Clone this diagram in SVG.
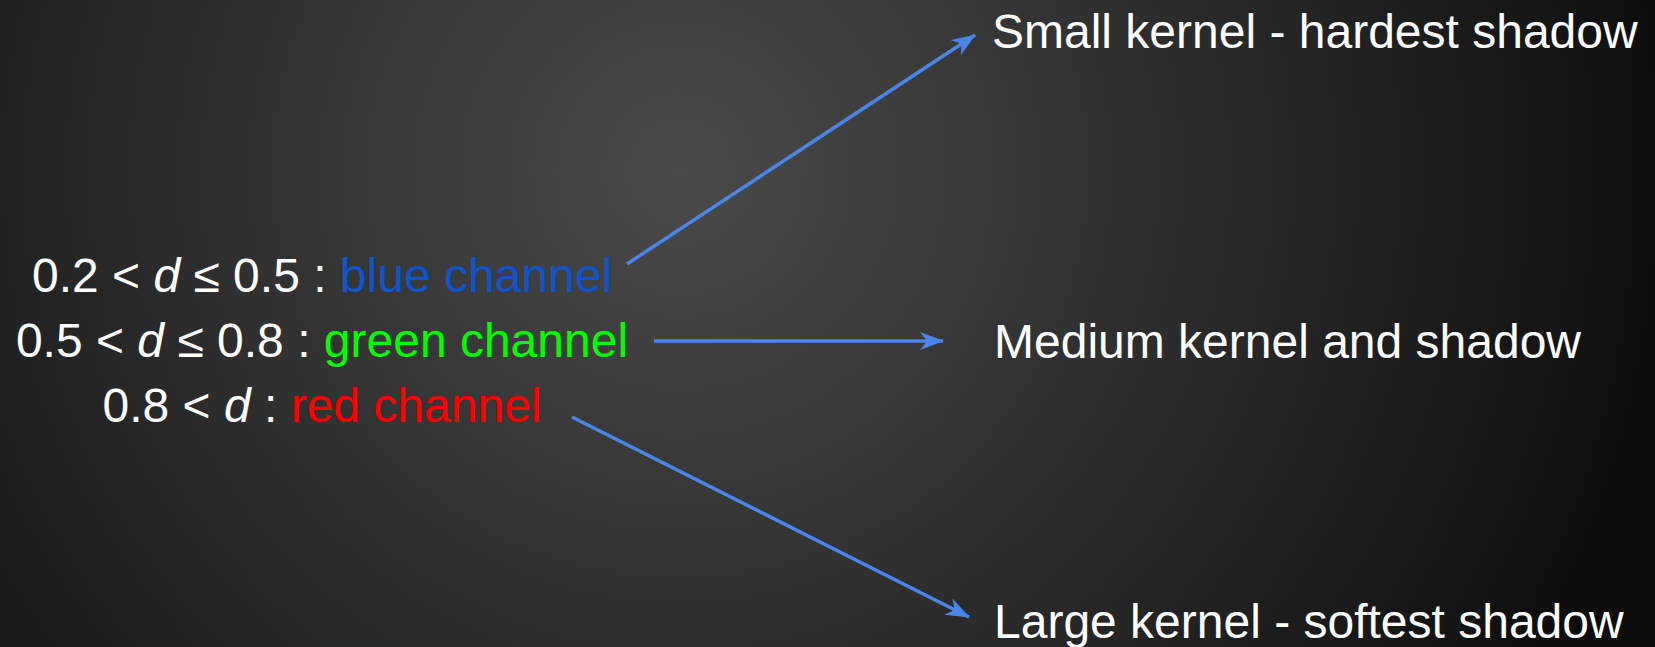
<svg xmlns="http://www.w3.org/2000/svg" width="1655" height="647" viewBox="0 0 1655 647">
  <defs>
    <radialGradient id="bg" gradientUnits="userSpaceOnUse" cx="680" cy="170" r="1000">
      <stop offset="0" stop-color="#4a4a4a"/>
      <stop offset="0.55" stop-color="#2a2a2a"/>
      <stop offset="1" stop-color="#0d0d0d"/>
    </radialGradient>
    <marker id="arrow" viewBox="0 0 24 18" refX="23" refY="9" markerWidth="24" markerHeight="18" markerUnits="userSpaceOnUse" orient="auto">
      <path d="M0,0 L24,9 L0,18 L7,9 Z" fill="#4a86e8"/>
    </marker>
    <style>
      text { font-family: "Liberation Sans", Arial, sans-serif; font-size: 48px; fill: #ffffff; }
      .mid { text-anchor: middle; }
      .it { font-style: italic; }
      .blue { fill: #1155cc; }
      .green { fill: #00ff00; }
      .red { fill: #ff0000; }
      .link { stroke: #4a86e8; stroke-width: 3.5; fill: none; marker-end: url(#arrow); }
    </style>
  </defs>

  <rect width="1655" height="647" fill="url(#bg)"/>

  <!-- depth ranges mapped to texture channels -->
  <g id="channels">
    <text class="mid" x="322" y="292">0.2 &lt; <tspan class="it">d</tspan> ≤ 0.5 : <tspan class="blue">blue channel</tspan></text>
    <text class="mid" x="322" y="357">0.5 &lt; <tspan class="it">d</tspan> ≤ 0.8 : <tspan class="green">green channel</tspan></text>
    <text class="mid" x="322" y="422">0.8 &lt; <tspan class="it">d</tspan> : <tspan class="red">red channel</tspan></text>
  </g>

  <g id="small-kernel">
    <text x="992" y="48">Small kernel - hardest shadow</text>
  </g>
  <g id="medium-kernel">
    <text x="994" y="358">Medium kernel and shadow</text>
  </g>
  <g id="large-kernel">
    <text x="994" y="638">Large kernel - softest shadow</text>
  </g>

  <g id="connectors">
    <line class="link" x1="627" y1="264" x2="975" y2="35"/>
    <line class="link" x1="654" y1="341" x2="943" y2="341"/>
    <line class="link" x1="572" y1="417" x2="969" y2="617"/>
  </g>
</svg>
